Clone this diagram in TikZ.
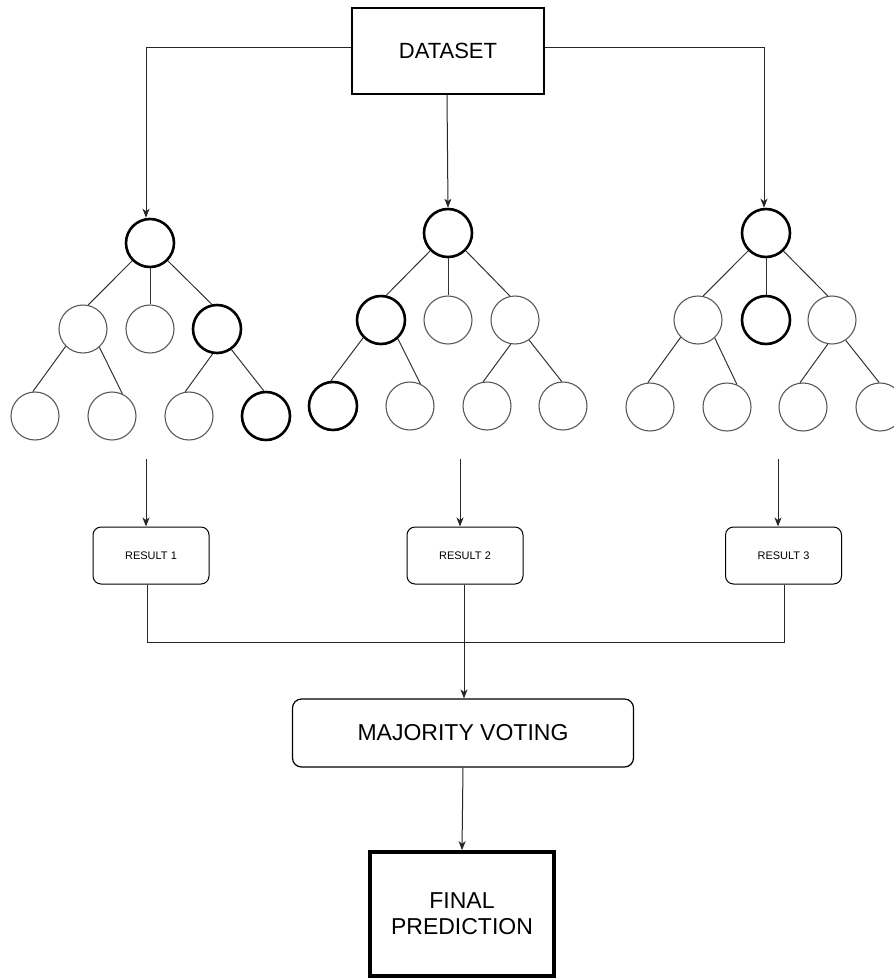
\documentclass[tikz,border=0pt]{standalone}
\usepackage{fontspec}
\setmainfont{Liberation Sans}
\usetikzlibrary{arrows.meta}
\begin{document}
\begin{tikzpicture}[x=1pt,y=-1pt,
  thin/.style={circle,draw=black!65,line width=1.1pt,minimum size=48pt,inner sep=0pt},
  thick/.style={circle,draw=black,line width=2.6pt,minimum size=48pt,inner sep=0pt},
  edge/.style={draw=black!80,line width=1pt},
  link/.style={draw=black!85,line width=1pt},
  arr/.style={link,-{Stealth[length=9pt,width=7pt,inset=2.5pt]}},
  resbox/.style={draw=black,line width=1pt,rounded corners=8pt,minimum width=116pt,minimum height=57pt,inner sep=0pt,font=\fontsize{11}{13}\selectfont},
]
\useasboundingbox (0,0) rectangle (894,978);
\clip (0,0) rectangle (894,978);
\fill[white] (0,0) rectangle (894,978);

% top box
\node[draw=black,line width=1.2pt,minimum width=192pt,minimum height=86pt,inner sep=0pt,font=\fontsize{22}{26}\selectfont] (dataset) at (448,51) {DATASET};

% tree 1
\node[thick] (r1) at (150,243) {};
\node[thin]  (a1) at (83,329) {};
\node[thin]  (b1) at (150,329) {};
\node[thick] (c1) at (217,329) {};
\node[thin]  (d1) at (35,416) {};
\node[thin]  (e1) at (112,416) {};
\node[thin]  (f1) at (189,416) {};
\node[thick] (g1) at (266,416) {};
\draw[edge] (r1.225) -- (a1.78);
\draw[edge] (r1.south) -- (b1.north);
\draw[edge] (r1.315) -- (c1.102);
\draw[edge] (a1.225) -- (d1.95);
\draw[edge] (a1.312) -- (e1.65);
\draw[edge] (c1.260) -- (f1.99);
\draw[edge] (c1.305) -- (g1.95);

% tree 2
\node[thick] (r2) at (448,233) {};
\node[thick] (a2) at (381,320) {};
\node[thin]  (b2) at (448,320) {};
\node[thin]  (c2) at (515,320) {};
\node[thick] (d2) at (333,406) {};
\node[thin]  (e2) at (410,406) {};
\node[thin]  (f2) at (487,406) {};
\node[thin]  (g2) at (563,406) {};
\draw[edge] (r2.225) -- (a2.78);
\draw[edge] (r2.south) -- (b2.north);
\draw[edge] (r2.315) -- (c2.102);
\draw[edge] (a2.225) -- (d2.95);
\draw[edge] (a2.312) -- (e2.65);
\draw[edge] (c2.260) -- (f2.99);
\draw[edge] (c2.305) -- (g2.93);

% tree 3
\node[thick] (r3) at (766,233) {};
\node[thin]  (a3) at (698,320) {};
\node[thick] (b3) at (766,320) {};
\node[thin]  (c3) at (832,320) {};
\node[thin]  (d3) at (650,407) {};
\node[thin]  (e3) at (727,407) {};
\node[thin]  (f3) at (803,407) {};
\node[thin]  (g3) at (880,407) {};
\draw[edge] (r3.225) -- (a3.78);
\draw[edge] (r3.south) -- (b3.north);
\draw[edge] (r3.314) -- (c3.100);
\draw[edge] (a3.225) -- (d3.95);
\draw[edge] (a3.313) -- (e3.66);
\draw[edge] (c3.260) -- (f3.97);
\draw[edge] (c3.304) -- (g3.92);

% dataset arrows
\draw[arr] ([yshift=4pt]dataset.west) -| ([xshift=-4pt]r1.north);
\draw[arr] ([xshift=-1pt]dataset.south) -- (r2.north);
\draw[arr] ([yshift=4pt]dataset.east) -| ([xshift=-2pt]r3.north);

% results
\node[resbox] (res1) at (151,555.5) {RESULT 1};
\node[resbox] (res2) at (465,555.5) {RESULT 2};
\node[resbox] (res3) at (783.5,555.5) {RESULT 3};

\coordinate (t1) at (146,459);
\coordinate (t2) at (460,459);
\coordinate (t3) at (778,459);
\draw[arr] (t1) -- (t1 |- res1.north);
\draw[arr] (t2) -- (t2 |- res2.north);
\draw[arr] (t3) -- (t3 |- res3.north);

\coordinate (j1) at (147,642);
\coordinate (j3) at (784,642);
\draw[link] (j1 |- res1.south) -- (j1) -- (j3) -- (j3 |- res3.south);

% majority voting
\node[draw=black,line width=1.2pt,rounded corners=9pt,minimum width=341pt,minimum height=68pt,inner sep=0pt,font=\fontsize{23}{27}\selectfont] (mv) at (463,733) {MAJORITY VOTING};
\draw[arr] ([xshift=-1pt]res2.south) -- ([xshift=1pt]mv.north);

% final prediction
\node[draw=black,line width=3.6pt,minimum width=184pt,minimum height=124pt,inner sep=0pt,align=center,font=\fontsize{23}{26}\selectfont] (fp) at (462,914) {FINAL\\PREDICTION};
\draw[arr] (mv.south) -- (fp.north);
\end{tikzpicture}
\end{document}
